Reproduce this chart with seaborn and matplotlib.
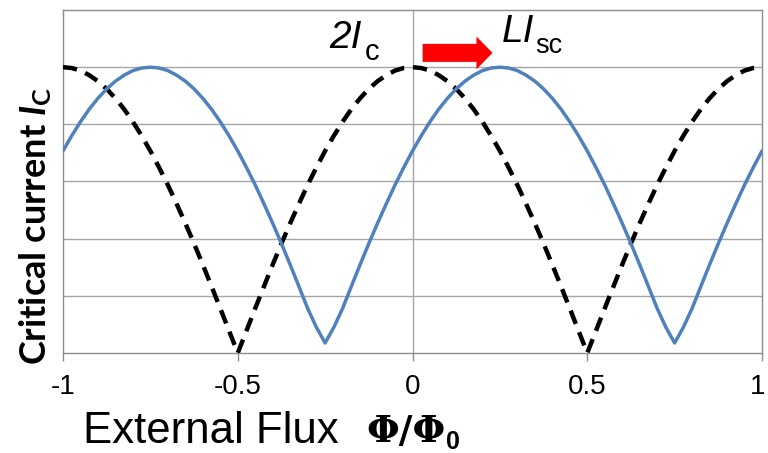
import matplotlib
matplotlib.use("Agg")
import matplotlib.pyplot as plt
import matplotlib.transforms as mtransforms
import seaborn as sns
import pandas as pd
from matplotlib.patches import FancyArrow

# ---- data ----
flux = [-1.000, -0.975, -0.950, -0.925, -0.900, -0.875, -0.850, -0.825, -0.800, -0.775,
        -0.750, -0.725, -0.700, -0.675, -0.650, -0.625, -0.600, -0.575, -0.550, -0.525,
        -0.500, -0.475, -0.450, -0.425, -0.400, -0.375, -0.350, -0.325, -0.300, -0.275,
        -0.250, -0.225, -0.200, -0.175, -0.150, -0.125, -0.100, -0.075, -0.050, -0.025,
        0.000, 0.025, 0.050, 0.075, 0.100, 0.125, 0.150, 0.175, 0.200, 0.225,
        0.250, 0.275, 0.300, 0.325, 0.350, 0.375, 0.400, 0.425, 0.450, 0.475,
        0.500, 0.525, 0.550, 0.575, 0.600, 0.625, 0.650, 0.675, 0.700, 0.725,
        0.750, 0.775, 0.800, 0.825, 0.850, 0.875, 0.900, 0.925, 0.950, 0.975, 1.000]

ic_symmetric = [1.000, 0.997, 0.988, 0.972, 0.951, 0.924, 0.891, 0.853, 0.809, 0.760,
                0.707, 0.649, 0.588, 0.522, 0.454, 0.383, 0.309, 0.233, 0.156, 0.078,
                0.000, 0.078, 0.156, 0.233, 0.309, 0.383, 0.454, 0.522, 0.588, 0.649,
                0.707, 0.760, 0.809, 0.853, 0.891, 0.924, 0.951, 0.972, 0.988, 0.997,
                1.000, 0.997, 0.988, 0.972, 0.951, 0.924, 0.891, 0.853, 0.809, 0.760,
                0.707, 0.649, 0.588, 0.522, 0.454, 0.383, 0.309, 0.233, 0.156, 0.078,
                0.000, 0.078, 0.156, 0.233, 0.309, 0.383, 0.454, 0.522, 0.588, 0.649,
                0.707, 0.760, 0.809, 0.853, 0.891, 0.924, 0.951, 0.972, 0.988, 0.997, 1.000]

ic_shifted = [0.707, 0.760, 0.809, 0.853, 0.891, 0.924, 0.951, 0.972, 0.988, 0.997,
              1.000, 0.997, 0.988, 0.972, 0.951, 0.924, 0.891, 0.853, 0.809, 0.760,
              0.707, 0.649, 0.588, 0.522, 0.454, 0.383, 0.309, 0.233, 0.156, 0.090,
              0.035, 0.090, 0.156, 0.233, 0.309, 0.383, 0.454, 0.522, 0.588, 0.649,
              0.707, 0.760, 0.809, 0.853, 0.891, 0.924, 0.951, 0.972, 0.988, 0.997,
              1.000, 0.997, 0.988, 0.972, 0.951, 0.924, 0.891, 0.853, 0.809, 0.760,
              0.707, 0.649, 0.588, 0.522, 0.454, 0.383, 0.309, 0.233, 0.156, 0.090,
              0.035, 0.090, 0.156, 0.233, 0.309, 0.383, 0.454, 0.522, 0.588, 0.649, 0.707]

xtick_vals = [-1, -0.5, 0, 0.5, 1]
xtick_labels = ["-1", "-0.5", "0", "0.5", "1"]
ygrid_vals = [0.2, 0.4, 0.6, 0.8, 1.0]

df = pd.DataFrame({"flux": flux, "sym": ic_symmetric, "shift": ic_shifted})

# ---- style ----
sns.set_theme(style="white")
plt.rcParams["font.family"] = ["Liberation Sans", "DejaVu Sans"]
plt.rcParams["text.color"] = "black"
plt.rcParams["xtick.color"] = "black"
plt.rcParams["mathtext.fontset"] = "custom"
plt.rcParams["mathtext.rm"] = "Lato:bold"
plt.rcParams["mathtext.it"] = "Lato:bold:italic"

W, H = 768, 453
fig = plt.figure(figsize=(W / 100, H / 100), dpi=100)
ax = fig.add_axes([63 / W, 1 - 353 / H, (762 - 63) / W, (353 - 10) / H])

grid_c = "#a6a6a6"
for yv in ygrid_vals:
    ax.axhline(yv, color=grid_c, lw=1.0, zorder=0)
ax.axvline(0, color=grid_c, lw=1.0, zorder=0)

sns.lineplot(data=df, x="flux", y="sym", ax=ax, color="black", lw=3.2,
             linestyle=(0, (3.2, 2.0)), sort=False, estimator=None, zorder=3)
sns.lineplot(data=df, x="flux", y="shift", ax=ax, color="#4F81BD", lw=2.5,
             sort=False, estimator=None, zorder=4)

ax.set_xlim(-1, 1)
ax.set_ylim(0, 1.2)
ax.set_xticks(xtick_vals)
ax.set_xticklabels(xtick_labels)
ax.set_yticks([])
ax.tick_params(axis="x", direction="out", length=6, width=1, color="#8c8c8c",
               pad=9, labelcolor="black", labelsize=20, bottom=True)
# keep the last label inside the canvas
last = ax.get_xticklabels()[-1]
last.set_transform(last.get_transform() +
                   mtransforms.ScaledTranslation(-4 / 100, 0, fig.dpi_scale_trans))
for s in ax.spines.values():
    s.set_color("#8c8c8c")
    s.set_linewidth(1.0)
ax.set_xlabel("")
ax.set_ylabel("")

def fx(px):
    return px / W

def fy(py):
    return 1 - py / H

renderer = fig.canvas.get_renderer()

def main_with_sub(x0, base, main, msize, sub, ssize, sbase, gap, main_kw=None, sub_kw=None):
    main_kw = main_kw or {}
    sub_kw = sub_kw or {}
    t = fig.text(fx(x0), fy(base), main, fontsize=msize, va="baseline", ha="left",
                 color="black", **main_kw)
    bb = t.get_window_extent(renderer=renderer)
    fig.text(fx(bb.x1 + gap), fy(sbase), sub, fontsize=ssize, va="baseline", ha="left",
             color="black", **sub_kw)

# y label
fig.text(fx(36), fy(226), r"Critical current $I_{\mathrm{C}}$", rotation=90,
         ha="center", va="center", fontsize=26, family="Lato", fontweight="bold",
         color="black")

# x label
fig.text(fx(83), fy(443), "External Flux", fontsize=31.5, va="baseline", ha="left",
         color="black")
main_with_sub(366, 442, "Φ/Φ", 27, "0", 18, 449, 1,
              main_kw=dict(family="DejaVu Serif", fontweight="bold"),
              sub_kw=dict(fontweight="bold"))

# annotations
main_with_sub(329, 48, "2I", 28, "c", 21, 60, 3, main_kw=dict(fontstyle="italic"))
main_with_sub(502, 42, "LI", 28, "sc", 19.5, 53, 1, main_kw=dict(fontstyle="italic"))

# red arrow (axes data coords)
ax.add_patch(FancyArrow(0.029, 1.05, 0.2, 0.0, width=0.063, head_width=0.115,
                        head_length=0.046, length_includes_head=True,
                        color="#ff0000", ec="none", zorder=5, clip_on=False))

fig.savefig("out.png", dpi=100)
